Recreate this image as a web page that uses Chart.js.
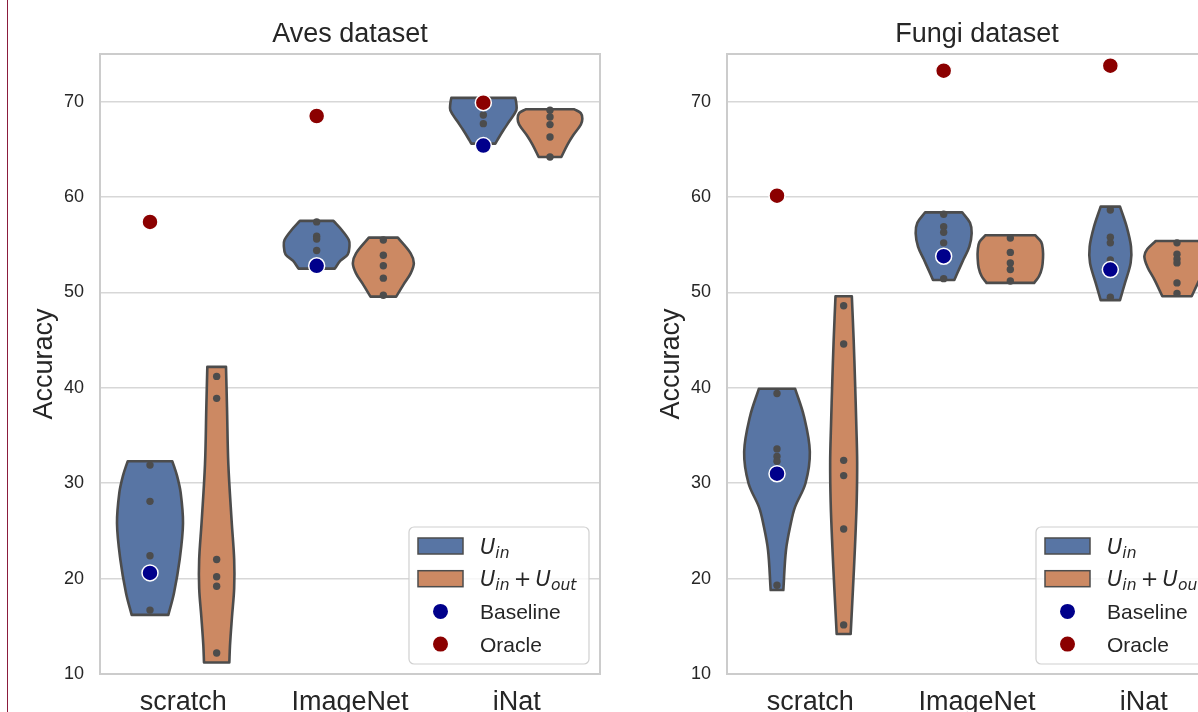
<!DOCTYPE html>
<html>
<head>
<meta charset="utf-8">
<script src="https://cdn.jsdelivr.net/npm/chart.js@4.4.0/dist/chart.umd.min.js"></script>
<style>
  html, body { margin: 0; padding: 0; background: #fff; overflow: hidden; width: 1198px; height: 712px; }
  #frame { position: absolute; left: 7px; top: 0; width: 1px; height: 712px; background: #8b1c3c; }
  canvas { position: absolute; top: 0; }
  #aves { left: 0; }
  #fungi { left: 627px; }
</style>
</head>
<body>
<div id="frame"></div>
<canvas id="aves" width="627" height="712"></canvas>
<canvas id="fungi" width="627" height="712"></canvas>
<script>
// violin plots: U_in vs U_in + U_out per pre-training, baseline / oracle markers

const categories = ["scratch", "ImageNet", "iNat"];
const yTicks = [10, 20, 30, 40, 50, 60, 70];
const legendLabels = ["$U_{in}$", "$U_{in} + U_{out}$", "Baseline", "Oracle"];

// outline of each violin: levels top -> bottom, half-width (category units) at each level
// ── Aves ──
const avesInLevels = [
  [32.3, 30.8, 29.0, 25.8, 22.0, 18.5, 16.2],
  [57.5, 56.5, 55.5, 54.9, 54.0, 53.3, 52.5],
  [70.4, 69.8, 69.1, 68.0, 67.0, 66.0, 65.6],
];
const avesInWidths = [
  [0.134, 0.162, 0.184, 0.198, 0.178, 0.144, 0.110],
  [0.101, 0.153, 0.193, 0.197, 0.187, 0.141, 0.109],
  [0.192, 0.198, 0.198, 0.158, 0.120, 0.085, 0.072],
];
const avesInPoints = [
  [31.9, 28.1, 22.4, 16.7],
  [57.4, 55.9, 55.6, 54.4],
  [68.6, 67.7],
];
const avesOutLevels = [
  [42.2, 38.0, 32.0, 26.0, 22.0, 19.0, 16.0, 13.0, 11.2],
  [55.75, 54.1, 53.05, 52.0, 50.8, 49.56],
  [69.2, 68.8, 68.2, 67.6, 66.5, 65.5, 64.2],
];
const avesOutWidths = [
  [0.056, 0.062, 0.070, 0.090, 0.105, 0.105, 0.092, 0.080, 0.076],
  [0.087, 0.164, 0.183, 0.164, 0.120, 0.077],
  [0.146, 0.185, 0.194, 0.185, 0.140, 0.105, 0.068],
];
const avesOutPoints = [
  [41.2, 38.9, 22.0, 20.2, 19.2, 12.2],
  [55.5, 53.9, 52.8, 51.5, 49.7],
  [69.1, 68.4, 67.6, 66.3, 64.2],
];
const avesBaseline = [20.6, 52.8, 65.4];
const avesOracle = [57.4, 68.5, 69.9];

// ── Fungi ──
const fungiInLevels = [
  [39.9, 37.0, 33.3, 30.0, 27.5, 25.8, 23.0, 18.8],
  [58.4, 57.3, 56.2, 54.8, 53.5, 52.5, 51.3],
  [59.0, 56.9, 54.8, 53.1, 51.0, 49.2],
];
const fungiInWidths = [
  [0.109, 0.162, 0.197, 0.171, 0.108, 0.083, 0.054, 0.038],
  [0.111, 0.158, 0.168, 0.154, 0.120, 0.094, 0.064],
  [0.058, 0.098, 0.124, 0.122, 0.088, 0.058],
];
const fungiInPoints = [
  [39.4, 33.6, 32.8, 32.3, 19.3],
  [58.2, 56.9, 56.3, 55.2, 51.45],
  [58.65, 55.8, 55.2, 53.4, 49.5],
];
const fungiOutLevels = [
  [49.6, 45.0, 40.8, 36.0, 32.2, 28.0, 23.4, 19.0, 14.2],
  [56.0, 55.3, 54.5, 53.6, 52.6, 51.7, 51.0],
  [55.4, 54.55, 53.8, 52.7, 51.3, 49.6],
];
const fungiOutWidths = [
  [0.049, 0.060, 0.068, 0.076, 0.081, 0.078, 0.068, 0.056, 0.042],
  [0.149, 0.185, 0.195, 0.196, 0.190, 0.172, 0.143],
  [0.128, 0.178, 0.196, 0.178, 0.134, 0.088],
];
const fungiOutPoints = [
  [48.6, 44.6, 32.4, 30.8, 25.2, 15.15],
  [55.7, 54.2, 53.1, 52.4, 51.2],
  [55.2, 54.0, 53.5, 53.1, 51.0, 49.9],
];
const fungiBaseline = [31.0, 53.8, 52.4];
const fungiOracle = [60.15, 73.25, 73.77];

// ── style ──
const C = {
  blue: "#5875a4",
  orange: "#cc8963",
  edge: "#4c4c4c",
  text: "#262626",
  grid: "#d7d7d7",
  frame: "#cccccc",
  base: "#00008b",
  oracle: "#8b0000",
};
const FONT = '"Liberation Sans", Arial, sans-serif';
const MATH_FONT = '"DejaVu Sans", sans-serif';
const DODGE = 0.2;
Chart.defaults.font.family = FONT;
Chart.defaults.color = C.text;

function violinOutline(cat, side, levels, widths) {
  const cx = cat + side * DODGE;
  const n = levels.length;
  const pts = [{ x: cx, y: levels[0] }];
  for (let i = 0; i < n; i++) {
    const p = { x: cx + widths[i], y: levels[i] };
    pts.push(p);
    if (i === 0 || i === n - 1) pts.push({ ...p }); // doubled corner = sharp
  }
  pts.push({ x: cx, y: levels[n - 1] });
  for (let i = n - 1; i >= 0; i--) {
    const p = { x: cx - widths[i], y: levels[i] };
    pts.push(p);
    if (i === 0 || i === n - 1) pts.push({ ...p });
  }
  pts.push({ x: cx, y: levels[0] });
  return pts;
}

function buildDatasets(d) {
  const sets = [];
  const marker = (label, vals, color) => ({
    label,
    data: vals.map((v, i) => ({ x: i - DODGE, y: v })),
    pointRadius: 8,
    pointBackgroundColor: color,
    pointBorderColor: "#ffffff",
    pointBorderWidth: 1.5,
    order: 0,
  });
  sets.push(marker("Baseline", d.baseline, C.base));
  sets.push(marker("Oracle", d.oracle, C.oracle));

  const dots = [];
  for (const [pts, side] of [[d.inPoints, -1], [d.outPoints, 1]]) {
    pts.forEach((vals, i) => vals.forEach((v) => dots.push({ x: i + side * DODGE, y: v })));
  }
  sets.push({
    data: dots,
    pointRadius: 3.7,
    pointBackgroundColor: C.edge,
    pointBorderWidth: 0,
    order: 1,
  });

  const violin = (cat, side, levels, widths, color) => ({
    data: violinOutline(cat, side, levels, widths),
    showLine: true,
    fill: "shape",
    backgroundColor: color,
    borderColor: C.edge,
    borderWidth: 2.6,
    borderJoinStyle: "round",
    tension: 0.35,
    pointRadius: 0,
    order: 2,
  });
  categories.forEach((_, i) => {
    sets.push(violin(i, -1, d.inLevels[i], d.inWidths[i], C.blue));
    sets.push(violin(i, 1, d.outLevels[i], d.outWidths[i], C.orange));
  });
  return sets;
}

// axes frame (seaborn whitegrid look)
const framePlugin = {
  id: "frame",
  beforeDatasetsDraw(chart) {
    const { ctx, chartArea: a } = chart;
    ctx.save();
    ctx.strokeStyle = C.frame;
    ctx.lineWidth = 2;
    ctx.strokeRect(a.left, a.top, a.right - a.left, a.bottom - a.top);
    ctx.restore();
  },
};

function drawLabel(ctx, s, x, y) {
  if (!s.startsWith("$")) {
    ctx.font = `21px ${FONT}`;
    ctx.fillText(s, x, y);
    return;
  }
  const size = 21;
  const body = s.slice(1, -1);
  const re = /([A-Za-z]+)(?:_\{(\w+)\})?|\+/g;
  let m;
  while ((m = re.exec(body))) {
    if (m[0] === "+") {
      ctx.font = `${size}px ${MATH_FONT}`;
      x += size * 0.2;
      ctx.fillText("+", x, y);
      x += ctx.measureText("+").width + size * 0.2;
      continue;
    }
    ctx.font = `italic ${size}px ${MATH_FONT}`;
    ctx.fillText(m[1], x, y);
    x += ctx.measureText(m[1]).width;
    if (m[2]) {
      ctx.font = `italic ${size * 0.74}px ${MATH_FONT}`;
      ctx.fillText(m[2], x, y + size * 0.2);
      x += ctx.measureText(m[2]).width;
    }
  }
}

const legendPlugin = {
  id: "mplLegend",
  afterDraw(chart) {
    const { ctx, chartArea: a } = chart;
    const w = 180, h = 137;
    const x0 = a.right - 11 - w;
    const y0 = a.bottom - 10 - h;
    ctx.save();
    ctx.beginPath();
    ctx.roundRect(x0, y0, w, h, 5);
    ctx.fillStyle = "rgba(255,255,255,0.8)";
    ctx.fill();
    ctx.strokeStyle = "#d0d0d0";
    ctx.lineWidth = 1.2;
    ctx.stroke();

    const swatch = [C.blue, C.orange];
    const dotsCol = [null, null, C.base, C.oracle];
    legendLabels.forEach((lab, i) => {
      const cy = y0 + 19 + i * 32.7;
      if (i < 2) {
        ctx.fillStyle = swatch[i];
        ctx.fillRect(x0 + 9, cy - 8, 45, 16);
        ctx.strokeStyle = C.edge;
        ctx.lineWidth = 1.5;
        ctx.strokeRect(x0 + 9, cy - 8, 45, 16);
      } else {
        ctx.beginPath();
        ctx.arc(x0 + 31.5, cy, 7.5, 0, Math.PI * 2);
        ctx.fillStyle = dotsCol[i];
        ctx.fill();
      }
      ctx.fillStyle = C.text;
      ctx.textBaseline = "alphabetic";
      ctx.textAlign = "left";
      drawLabel(ctx, lab, x0 + 71, cy + 7.5);
    });
    ctx.restore();
  },
};

function makeChart(id, title, d) {
  return new Chart(document.getElementById(id), {
    type: "scatter",
    data: { datasets: buildDatasets(d) },
    plugins: [framePlugin, legendPlugin],
    options: {
      responsive: false,
      animation: false,
      events: [],
      layout: { padding: { left: 0, right: 27, top: 0, bottom: 0 } },
      plugins: {
        legend: { display: false },
        tooltip: { enabled: false },
        title: {
          display: true,
          text: title,
          fullSize: false,
          color: C.text,
          font: { family: FONT, size: 27, weight: "normal" },
          padding: { top: 18, bottom: 3.6 },
        },
      },
      scales: {
        x: {
          type: "linear",
          min: -0.5,
          max: 2.5,
          afterBuildTicks: (s) => { s.ticks = categories.map((_, i) => ({ value: i })); },
          afterFit: (s) => { s.height = 38; },
          grid: { display: false, drawTicks: false },
          border: { display: false },
          ticks: {
            callback: (v) => categories[v],
            color: C.text,
            font: { size: 27 },
            padding: 12,
            autoSkip: false,
            maxRotation: 0,
          },
        },
        y: {
          min: 10,
          max: 75,
          afterBuildTicks: (s) => { s.ticks = yTicks.map((v) => ({ value: v })); },
          afterFit: (s) => { s.width = 100; },
          grid: { color: C.grid, lineWidth: 1.5, drawTicks: false },
          border: { display: false },
          ticks: { color: C.text, font: { size: 18 }, padding: 16 },
          title: {
            display: true,
            text: "Accuracy",
            color: C.text,
            font: { size: 27 },
            padding: { top: 28, bottom: 0 },
          },
        },
      },
    },
  });
}

makeChart("aves", "Aves dataset", {
  inLevels: avesInLevels, inWidths: avesInWidths, inPoints: avesInPoints,
  outLevels: avesOutLevels, outWidths: avesOutWidths, outPoints: avesOutPoints,
  baseline: avesBaseline, oracle: avesOracle,
});
makeChart("fungi", "Fungi dataset", {
  inLevels: fungiInLevels, inWidths: fungiInWidths, inPoints: fungiInPoints,
  outLevels: fungiOutLevels, outWidths: fungiOutWidths, outPoints: fungiOutPoints,
  baseline: fungiBaseline, oracle: fungiOracle,
});
</script>
</body>
</html>
